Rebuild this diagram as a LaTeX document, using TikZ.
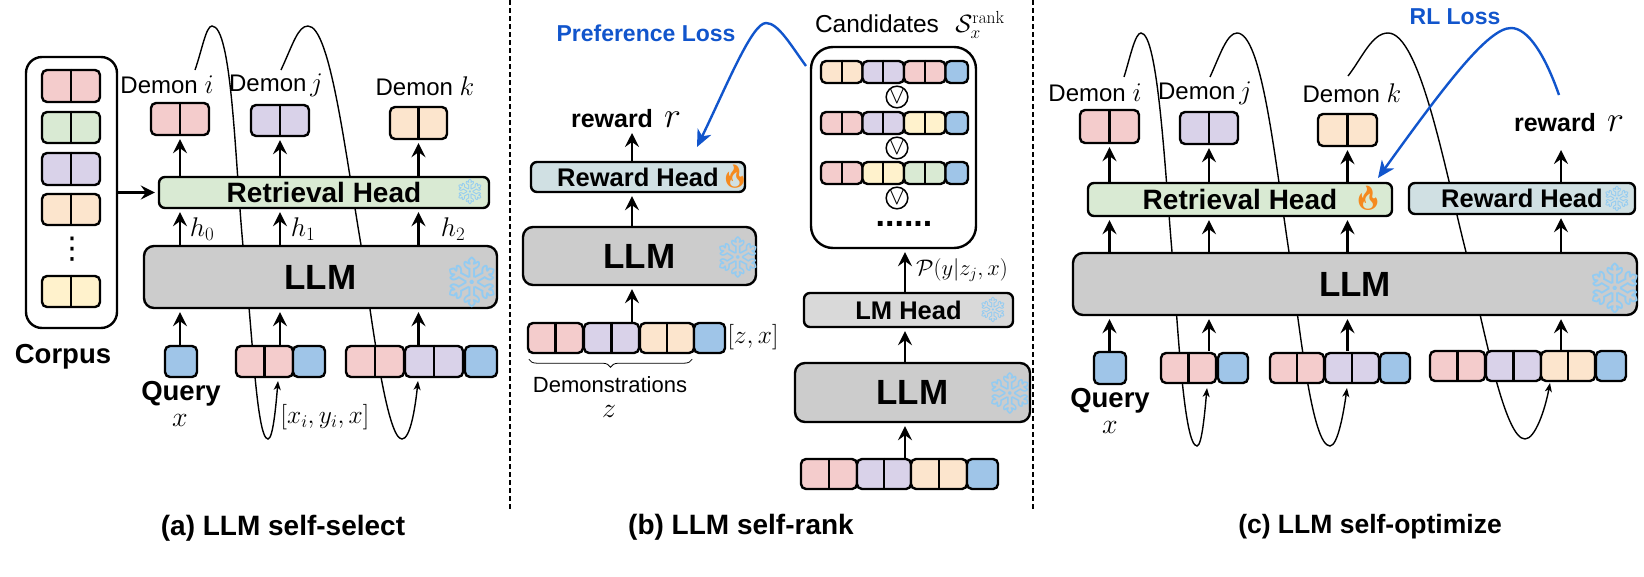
\documentclass[tikz,border=0pt]{standalone}
\usepackage{fix-cm}
\usepackage[no-math]{fontspec}
\setmainfont{Liberation Sans}
\newfontfamily\emojifont{Noto Emoji}
\newfontfamily\symfont{DejaVu Sans}
\usetikzlibrary{arrows.meta, decorations.pathreplacing}
\definecolor{cpink}{HTML}{F4CCCC}
\definecolor{cgreen}{HTML}{D9EAD3}
\definecolor{cpurple}{HTML}{D9D2E9}
\definecolor{corange}{HTML}{FCE5CD}
\definecolor{cyellow}{HTML}{FFF2CC}
\definecolor{cblue}{HTML}{9FC5E8}
\definecolor{creward}{HTML}{D0E0E3}
\definecolor{cllm}{HTML}{CCCCCC}
\definecolor{chead}{HTML}{D9D9D9}
\definecolor{closs}{HTML}{1155CC}
\definecolor{cice}{HTML}{92CBF2}
\definecolor{cfire}{HTML}{F58A1F}
\newcommand{\fs}[1]{\fontsize{#1}{#1}\selectfont}
\tikzset{
  every picture/.style={line width=2pt},
  token/.style={draw, fill=#1, rounded corners=5pt, inner sep=0pt, line width=2.4pt},
  headbox/.style={draw, fill=#1, rounded corners=6pt, inner sep=0pt, line width=2.4pt, font=\fs{28}\bfseries},
  llmbox/.style={draw, fill=cllm, rounded corners=10pt, inner sep=0pt, line width=2.4pt, font=\fs{35}\bfseries},
  flow/.style={-{Stealth[length=14pt,width=14pt,inset=5pt]}, line width=2.2pt, shorten >=3pt},
  thinflow/.style={-{Stealth[length=9pt,width=7pt,inset=2.5pt]}, line width=1.4pt},
  lossflow/.style={-{Stealth[length=17pt,width=15pt,inset=5pt]}, draw=closs, line width=2.4pt},
  sepline/.style={line width=2pt, dash pattern=on 5pt off 3pt},
  txt/.style={inner sep=0pt, font=\fs{#1}},
  txt/.default=24,
  boldtxt/.style={inner sep=0pt, font=\fs{#1}\bfseries},
  ice/.style={inner sep=0pt, text=cice, font=\emojifont\fs{#1}},
  fire/.style={inner sep=0pt, text=cfire, font=\emojifont\fs{#1}},
  orbox/.style={draw, circle, minimum size=21pt, inner sep=0pt, line width=1.5pt, font=\fs{25}},
}
% name, colour, left, right, top, bottom
\newcommand{\cell}[6]{
  \node[token=#2, minimum width={((#4)-(#3))*1pt}, minimum height={((#6)-(#5))*1pt}] (#1)
    at ({((#3)+(#4))/2},{((#5)+(#6))/2}) {};
}
\newcommand{\pair}[6]{
  \cell{#1}{#2}{#3}{#4}{#5}{#6}
  \draw[line width=2.2pt] (#1.north) -- (#1.south);
}
% name, style, left, right, top, bottom, text
\newcommand{\block}[7]{
  \node[#2, minimum width={((#4)-(#3))*1pt}, minimum height={((#6)-(#5))*1pt}] (#1)
    at ({((#3)+(#4))/2},{((#5)+(#6))/2}) {#7};
}
% name, top, three colours
\newcommand{\candrow}[5]{
  \foreach \col [count=\n from 0] in {#3,#4,#5} {
    \pair{#1p\n}{\col}{821+41.5*\n}{821+41.5*(\n+1)}{#2}{#2+22}
  }
  \cell{#1q}{cblue}{945.5}{968}{#2}{#2+22}
}
\newcommand{\mth}[1]{{\fs{27}$#1$}}
\begin{document}
\begin{tikzpicture}[x=1pt,y=-1pt]
  \useasboundingbox (0,0) rectangle (1644,576);
  \coordinate (sepab) at (510,0);
  \coordinate (sepabe) at (510,510);
  \coordinate (sepbc) at (1033,0);
  \coordinate (sepbce) at (1033,510);
  \draw[sepline] (sepab) -- (sepabe);
  \draw[sepline] (sepbc) -- (sepbce);

  % (a) self-select
  \coordinate (aloopi) at (195,70);
  \coordinate (aloopj) at (281,70);
  \coordinate (aendi) at (278,381);
  \coordinate (aendj) at (418,381);
  \draw[thinflow] (aloopi) .. controls (202,50) and (206,26) .. (212,26) .. controls (232,26) and (235,160) .. (243,246)
    .. controls (252,320) and (256,439) .. (268,439) .. controls (273,439) and (276,405) .. (aendi);
  \draw[thinflow] (aloopj) .. controls (293,44) and (298,26) .. (308,26) .. controls (330,26) and (345,150) .. (361,245)
    .. controls (374,340) and (388,439) .. (402,439) .. controls (410,439) and (415,410) .. (aendj);

  \block{corpus}{token=white, rounded corners=16pt}{26}{117}{57}{328}{}
  \pair{cp1}{cpink}{42}{100}{70}{102}
  \pair{cp2}{cgreen}{42}{100}{112}{143}
  \pair{cp3}{cpurple}{42}{100}{153}{185}
  \pair{cp4}{corange}{42}{100}{194}{225}
  \pair{cp5}{cyellow}{42}{100}{276}{307}
  \node[inner sep=0pt, font=\symfont\fs{30}] (cdots) at (72,249) {⋮};
  \node[boldtxt=27.5] (corpuslabel) at (63,357) {Corpus};

  \pair{demai}{cpink}{151}{209}{103}{135}
  \pair{demaj}{cpurple}{251}{309}{105}{136}
  \pair{demak}{corange}{390}{447}{107}{139}
  \node[txt] (labai) at (167,85) {Demon \mth{i}};
  \node[txt] (labaj) at (276,85) {Demon\,\mth{j}};
  \node[txt] (labak) at (425,86) {Demon \mth{k}};
  \block{reta}{headbox=cgreen}{159}{489}{177}{208}{Retrieval Head}
  \block{llma}{llmbox}{144}{497}{246}{308}{LLM}
  \node[ice=25] (icea1) at (470,192) {❄};
  \node[ice=50] (icea2) at (472,282) {❄};

  \cell{qa}{cblue}{165}{197}{346}{377}
  \pair{pa1}{cpink}{236}{293}{346}{377}
  \cell{qa1}{cblue}{293}{325}{346}{377}
  \pair{pa2}{cpink}{346}{404}{346}{377}
  \pair{pa3}{cpurple}{405}{463}{346}{377}
  \cell{qa2}{cblue}{465}{497}{346}{377}

  \draw[flow] (corpus.east |- reta) -- (reta.west);
  \foreach \d in {demai,demaj,demak} {
    \draw[flow] (reta.north -| \d.south) -- (\d.south);
    \draw[flow] (llma.north -| \d.south) -- (reta.south -| \d.south);
    \draw[flow] (\d.south |- qa.north) -- (llma.south -| \d.south);
  }
  \node[txt=27] (h0) at (202,229) {$h_0$};
  \node[txt=27] (h1) at (303,229) {$h_1$};
  \node[txt=27] (h2) at (453,229) {$h_2$};
  \node[boldtxt=27.5] (querya) at (181,394) {Query};
  \node[txt=28] (xa) at (180,420) {$x$};
  \node[txt=25.5] (seqa) at (325,417) {$[x_i,y_i,x]$};
  \node[boldtxt=28] (capa) at (283,528) {(a) LLM self-select};

  % (b) self-rank
  \pair{zb1}{cpink}{528}{583}{323}{353}
  \pair{zb2}{cpurple}{584}{639}{323}{353}
  \pair{zb3}{corange}{640}{694}{323}{353}
  \cell{zb4}{cblue}{694}{725}{323}{353}
  \block{rewb}{headbox=creward, font=\fs{25.5}\bfseries}{531}{745}{162}{192}{Reward Head}
  \block{llmb}{llmbox}{523}{756}{227}{285}{LLM}
  \node[fire=23] (fireb) at (735,177) {🔥};
  \node[ice=41] (iceb1) at (738,257) {❄};
  \coordinate (rb) at (632,130);
  \draw[flow] (rb |- zb2.north) -- (rb |- llmb.south);
  \draw[flow] (rb |- llmb.north) -- (rb |- rewb.south);
  \draw[flow] (rb |- rewb.north) -- (rb);
  \node[boldtxt=25] (rewardb) at (626,119) {reward\, {\fs{36}\mdseries$r$}};
  \node[txt=25.5] (zx) at (753,337) {$[z,x]$};
  \draw[decorate, decoration={brace, mirror, amplitude=8pt}, line width=0.8pt]
    ([yshift=-5pt,xshift=2pt]zb1.south west) -- ([yshift=-5pt,xshift=-3pt]zb3.south east);
  \node[txt=22] (demolabel) at (610,385) {Demonstrations};
  \node[txt=28] (zlabel) at (609,411) {$z$};

  \block{cand}{token=white, rounded corners=22pt}{811}{976}{47}{248}{}
  \candrow{ra}{61}{corange}{cpurple}{cpink}
  \candrow{rb}{112}{cpink}{cpurple}{cyellow}
  \candrow{rc}{162}{cpink}{cyellow}{cgreen}
  \node[orbox] (or1) at (897,97) {$\vee$};
  \node[orbox] (or2) at (897,148) {$\vee$};
  \node[orbox] (or3) at (897,198) {$\vee$};
  \node[boldtxt=34, anchor=base] (candots) at (904,226) {......};
  \node[txt=24.5] (candlabel) at (877,24) {Candidates};
  \node[txt=25] (srank) at (980,25) {$\mathcal{S}_x^{\mathrm{rank}}$};

  \block{headb}{headbox=chead, font=\fs{25.5}\bfseries}{804}{1013}{293}{327}{LM Head}
  \block{llmc}{llmbox}{795}{1030}{363}{422}{LLM}
  \node[ice=25] (iceb2) at (993,310) {❄};
  \node[ice=41] (iceb3) at (1010,393) {❄};
  \pair{sb1}{cpink}{801}{857}{459}{489}
  \pair{sb2}{cpurple}{857}{911}{459}{489}
  \pair{sb3}{corange}{911}{967}{459}{489}
  \cell{sb4}{cblue}{967}{998}{459}{489}
  \coordinate (rbx) at (905,400);
  \draw[flow] (rbx |- sb2.north) -- (rbx |- llmc.south);
  \draw[flow] (rbx |- llmc.north) -- (rbx |- headb.south);
  \draw[flow] (rbx |- headb.north) -- (rbx |- cand.south);
  \node[txt=22.5] (pyz) at (962,270) {$\mathcal{P}(y|z_j,x)$};
  \node[boldtxt=23, text=closs] (prefloss) at (646,33) {Preference Loss};
  \coordinate (prefs) at (806,66);
  \coordinate (prefe) at (697,147);
  \draw[lossflow] (prefs) .. controls (790,44) and (778,23) .. (766,23) .. controls (752,23) and (727,85) .. (prefe);
  \node[boldtxt=28] (capb) at (741,527) {(b) LLM self-rank};

  % (c) self-optimize
  \coordinate (cloopi) at (1124,77);
  \coordinate (cloopj) at (1210,77);
  \coordinate (cloopk) at (1348,76);
  \coordinate (cendi) at (1207,388);
  \coordinate (cendj) at (1347,388);
  \coordinate (cendk) at (1550,383);
  \draw[thinflow] (cloopi) .. controls (1130,58) and (1135,33) .. (1141,33) .. controls (1158,33) and (1165,170) .. (1172,252)
    .. controls (1178,330) and (1184,446) .. (1197,446) .. controls (1202,446) and (1205,410) .. (cendi);
  \draw[thinflow] (cloopj) .. controls (1220,55) and (1227,33) .. (1237,33) .. controls (1262,33) and (1275,160) .. (1289,252)
    .. controls (1300,330) and (1312,446) .. (1330,446) .. controls (1338,446) and (1344,410) .. (cendj);
  \draw[thinflow] (cloopk) .. controls (1362,58) and (1372,33) .. (1388,33) .. controls (1420,33) and (1445,170) .. (1466,252)
    .. controls (1485,335) and (1505,439) .. (1525,439) .. controls (1535,439) and (1545,410) .. (cendk);

  \pair{demci}{cpink}{1080}{1139}{110}{143}
  \pair{demcj}{cpurple}{1180}{1238}{112}{144}
  \pair{demck}{corange}{1318}{1377}{114}{146}
  \node[txt] (labci) at (1095,93) {Demon \mth{i}};
  \node[txt] (labcj) at (1205,93) {Demon\,\mth{j}};
  \node[txt] (labck) at (1352,93) {Demon \mth{k}};
  \block{retc}{headbox=cgreen}{1088}{1392}{183}{216}{Retrieval Head}
  \block{rewc}{headbox=creward, font=\fs{25.5}\bfseries}{1409}{1635}{183}{214}{Reward Head}
  \block{llmd}{llmbox}{1073}{1637}{253}{315}{LLM}
  \node[fire=24] (firec) at (1368,198) {🔥};
  \node[ice=25] (icec1) at (1617,199) {❄};
  \node[ice=50] (icec2) at (1615,288) {❄};

  \cell{qc}{cblue}{1094}{1126}{352}{384}
  \pair{pc1}{cpink}{1161}{1216}{353}{383}
  \cell{qc1}{cblue}{1218}{1248}{353}{383}
  \pair{pc2}{cpink}{1270}{1324}{353}{383}
  \pair{pc3}{cpurple}{1325}{1379}{353}{383}
  \cell{qc2}{cblue}{1380}{1410}{353}{383}
  \pair{pc4}{cpink}{1430}{1485}{351}{381}
  \pair{pc5}{cpurple}{1486}{1541}{351}{381}
  \pair{pc6}{corange}{1541}{1595}{351}{381}
  \cell{qc3}{cblue}{1596}{1626}{351}{381}

  \foreach \d in {demci,demcj,demck} {
    \draw[flow] (retc.north -| \d.south) -- (\d.south);
    \draw[flow] (llmd.north -| \d.south) -- (retc.south -| \d.south);
    \draw[flow] (\d.south |- qc.north) -- (llmd.south -| \d.south);
  }
  \coordinate (rcx) at (1561,147);
  \draw[flow] (rewc.north -| rcx) -- (rcx);
  \draw[flow] (llmd.north -| rcx) -- (rewc.south -| rcx);
  \draw[flow] (pc6.north -| rcx) -- (llmd.south -| rcx);
  \node[boldtxt=25] (rewardc) at (1569,123) {reward \,{\fs{36}\mdseries$r$}};
  \node[boldtxt=27.5] (queryc) at (1110,401) {Query};
  \node[txt=28] (xc) at (1110,427) {$x$};
  \node[boldtxt=23, text=closs] (rlloss) at (1455,17) {RL Loss};
  \coordinate (rls) at (1559,95);
  \coordinate (rle) at (1378,178);
  \draw[lossflow] (rls) .. controls (1545,55) and (1528,28) .. (1511,28) .. controls (1488,28) and (1445,85) .. (rle);
  \node[boldtxt=26.5] (capc) at (1370,527) {(c) LLM self-optimize};
\end{tikzpicture}
\end{document}
